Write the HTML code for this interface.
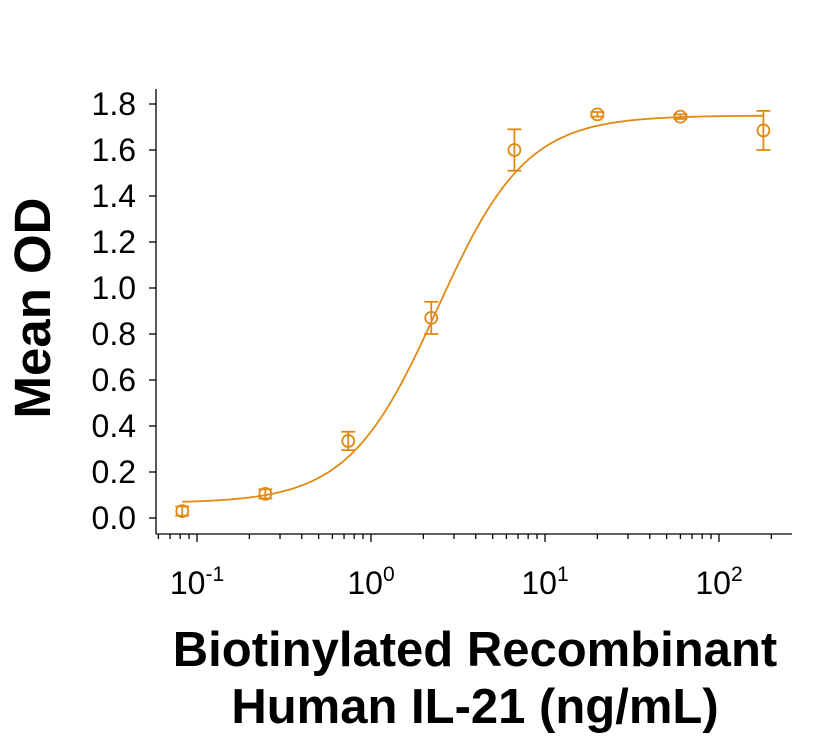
<!DOCTYPE html>
<html><head><style>
body{margin:0;background:#fff;}
svg{display:block;font-family:"Liberation Sans",Arial,sans-serif;}
</style></head><body>
<svg id="s" width="831" height="738" viewBox="0 0 831 738">
<g stroke="#000" stroke-width="1.3" fill="none">
<line x1="156" y1="89" x2="156" y2="534"/>
<line x1="156" y1="534" x2="792" y2="534"/>
</g>
<g id="ticks" stroke="#000" stroke-width="1.3"></g>
<g font-size="32" text-anchor="end" fill="#000" id="ylab"></g>
<g font-size="32" fill="#000">
<text x="197" y="594" text-anchor="middle">10<tspan dy="-13" font-size="21">-1</tspan></text>
<text x="371" y="594" text-anchor="middle">10<tspan dy="-13" font-size="21">0</tspan></text>
<text x="545" y="594" text-anchor="middle">10<tspan dy="-13" font-size="21">1</tspan></text>
<text x="719" y="594" text-anchor="middle">10<tspan dy="-13" font-size="21">2</tspan></text>
</g>
<text transform="translate(50,308) rotate(-90)" text-anchor="middle" font-size="51" font-weight="bold">Mean OD</text>
<text x="475" y="666" text-anchor="middle" font-size="49" font-weight="bold">Biotinylated Recombinant</text>
<text x="475" y="723" text-anchor="middle" font-size="49" font-weight="bold">Human IL-21 (ng/mL)</text>
<g id="data" stroke="#E08A14" stroke-width="1.8" fill="none"></g>
</svg>
<script>
var NS="http://www.w3.org/2000/svg";
function X(v){return 371+174*Math.log10(v);}
function Y(v){return 518-230*v;}
function el(p,t,a){var e=document.createElementNS(NS,t);for(var k in a)e.setAttribute(k,a[k]);p.appendChild(e);return e;}
var tk=document.getElementById("ticks"),yl=document.getElementById("ylab");
for(var i=0;i<=9;i++){var v=i*0.2,y=Y(v);el(tk,"line",{x1:149,x2:156,y1:y,y2:y});var t=el(yl,"text",{x:136,y:y+11});t.textContent=v.toFixed(1);}
for(var d=-2;d<=2;d++)for(var m=1;m<10;m++){var v=m*Math.pow(10,d),x=X(v);if(x<157||x>792)continue;el(tk,"line",{x1:x,x2:x,y1:534,y2:m==1?542:539});}
var g=document.getElementById("data");
var B=0.065,T=1.75,C=2.4,H=1.7,p="";
for(var i=0;i<=300;i++){var lv=Math.log10(0.0823)+i*(Math.log10(180)-Math.log10(0.0823))/300,v=Math.pow(10,lv);var yv=B+(T-B)/(1+Math.pow(C/v,H));p+=(i?"L":"M")+X(v).toFixed(1)+","+Y(yv).toFixed(1);}
el(g,"path",{d:p});
var xs=[0.0823,0.247,0.74,2.22,6.67,20,60,180],ys=[0.03,0.105,0.335,0.87,1.60,1.755,1.745,1.685],es=[0.02,0.02,0.04,0.07,0.09,0.01,0.01,0.085];
for(var i=0;i<8;i++){var x=X(xs[i]),y=Y(ys[i]),e=es[i]*230;
el(g,"circle",{cx:x,cy:y,r:6});
el(g,"line",{x1:x,x2:x,y1:y-e,y2:y+e});el(g,"line",{x1:x-7,x2:x+7,y1:y-e,y2:y-e});el(g,"line",{x1:x-7,x2:x+7,y1:y+e,y2:y+e});}
</script>
</body></html>
